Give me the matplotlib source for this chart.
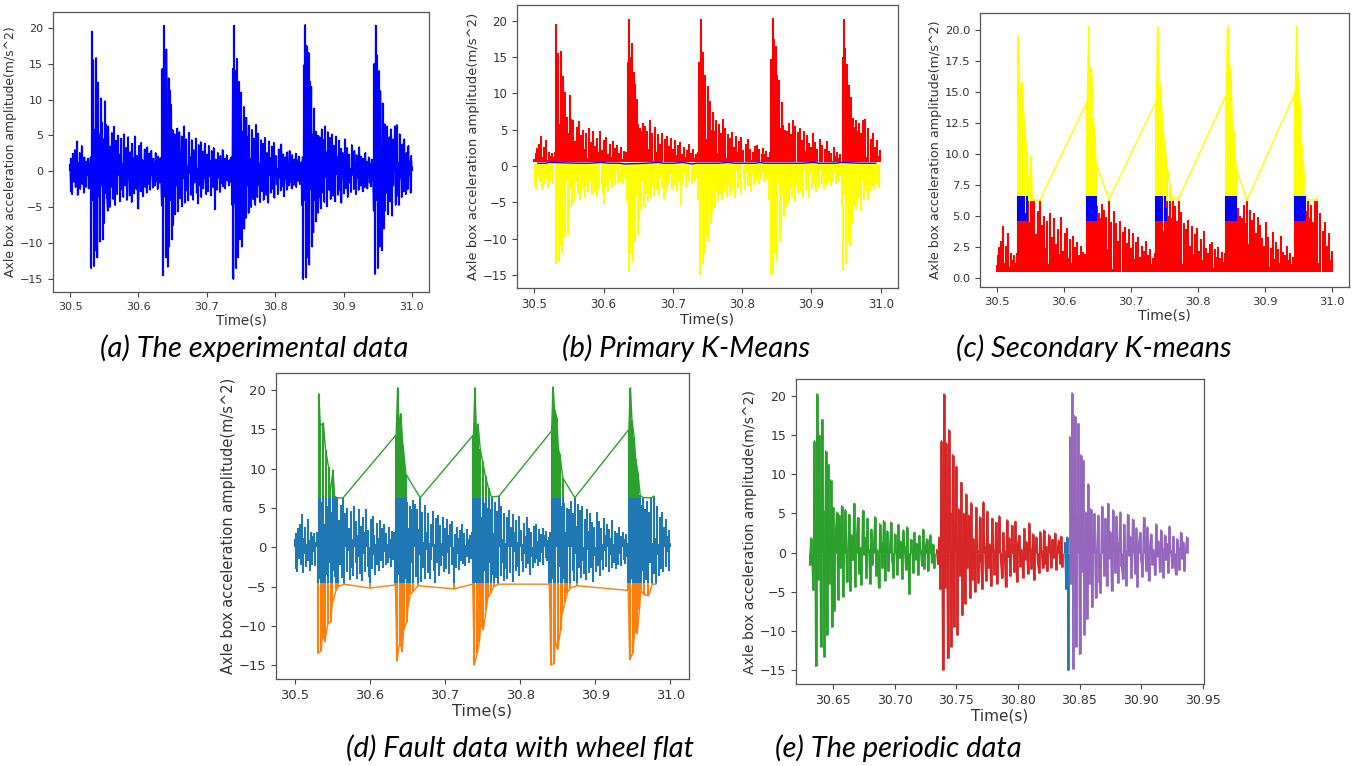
import numpy as np
import matplotlib.pyplot as plt

# axle box acceleration (m/s^2), one value per ms starting at 30.500 s
pre_impact = [1.0, -2.8, 1.8, -3.2, 2.5, 0.4, -1.5, 3.0, -2.2, 0.6,
              4.2, -3.3, 1.2, -0.8, 2.6, -2.5, 0.4, 3.6, -1.8, 0.9,
              -3.0, 2.0, 0.5, -2.2, 1.4, -0.6, 1.8, -2.4, 0.7, 1.2]

cycle_1 = [2.0, -13.5, 19.5, -4.0, 15.5, -13.2, 5.8, -11.0,
           15.8, 3.0, -12.0, 12.4, -3.5, 5.2, -9.8, 10.2,
           -2.0, 6.8, -9.5, 4.5, -7.2, 9.8, -3.0, 6.5,
           -3.8, -5.5, 6.3, 0.8, -5.0, 3.5, -2.2, 5.4,
           0.4, -3.9, 6.25, -1.5, -4.7, 4.3, 0.9, -3.2,
           5.0, -0.5, 2.4, -4.2, 0.6, 4.6, -2.6, 1.1,
           -3.6, 5.2, 0.4, -2.0, 3.3, -4.0, 1.5, 4.8,
           -1.2, -3.4, 2.7, 0.7, -4.3, 3.9, -0.8, 1.9,
           -3.1, 4.9, 0.5, -2.5, 2.2, -3.8, -5.2, 3.6,
           0.8, -2.8, 4.0, -1.0, 1.6, -3.5, 0.4, 3.1,
           -2.2, 1.2, -3.0, 3.4, 0.6, -1.8, 2.5, -2.6,
           0.9, 2.9, -0.6, -2.3, 1.8, 0.4, -2.0, 2.6,
           -1.4, 1.0, -2.5, 2.1, 0.3, -1.6, 1.9, -1.2]

cycle_2 = [-4.8, 14.3, -14.5, 20.3, -3.5, 15.0, -12.0, 17.0,
           5.5, -13.3, 13.0, -10.5, 11.3, -4.0, 9.3, -9.5,
           5.8, -7.5, 2.5, 5.2, -6.0, 4.8, -2.0, 6.0,
           -5.6, 1.2, 5.5, -3.8, 0.4, 4.9, -4.9, 2.3,
           -1.0, 6.3, -4.4, 1.4, 4.5, -2.7, 0.7, -4.1,
           5.4, -0.3, 2.0, -3.3, 4.4, 0.5, -4.0, 3.0,
           -1.6, 1.0, 4.6, -3.0, 0.4, -4.5, 3.7, 1.3,
           -2.0, 4.1, -3.6, 0.8, 2.8, -2.4, 0.6, 3.9,
           -1.1, -3.2, 2.4, 0.4, -2.8, 3.6, -0.7, 1.5,
           -3.4, 2.9, 0.9, -2.2, 3.3, -1.4, -5.3, 1.7,
           0.5, -2.6, 2.6, -0.9, 1.2, -2.9, 2.2, 0.4,
           -1.7, 3.0, -2.1, 0.7, 1.8, -2.4, 0.3, 2.3,
           -1.3, 1.1, -2.0, 1.6, 0.4, -1.5, 2.0, -4.7]

cycle_3 = [14.3, -15.0, 20.3, -4.5, 14.0, -13.5, 15.7, 5.2,
           -12.0, 12.5, -9.5, 3.8, 11.0, -10.5, 5.6, -3.0,
           9.0, -8.0, 5.0, -6.5, 7.5, -2.0, 4.8, -5.8,
           6.4, -3.5, 1.8, -5.0, 5.8, 0.4, -3.9, 4.6,
           -1.2, -4.7, 6.5, 0.8, -3.6, 5.3, -2.0, 1.1,
           -4.3, 4.4, 0.5, -2.8, 3.9, -4.0, 1.6, 4.7,
           -1.0, -3.3, 2.6, 0.4, -4.4, 4.2, -0.6, 1.9,
           -3.0, 3.5, 0.7, -2.5, 4.0, -3.7, 1.3, 2.2,
           -1.8, 0.4, -3.2, 3.1, -0.9, 1.4, -2.7, 3.8,
           0.6, -2.1, 2.4, -3.5, 0.9, 2.0, -1.2, -2.6,
           2.7, 0.4, -2.0, 2.9, -1.5, 0.8, -2.4, 2.3,
           0.5, -1.9, 1.7, -0.7, 2.5, -2.2, 0.4, 1.6,
           -1.4, 2.1, -1.8, 0.9, 1.3, -4.7, 2.0, -15.0]

cycle_4 = [14.8, -4.0, 20.4, -14.8, 17.5, -12.0, 4.5, 16.5,
           -13.0, 12.5, -2.5, 11.8, -10.5, 5.2, -8.5, 8.8,
           -4.0, 5.6, -7.0, 2.0, 5.0, -5.8, 0.4, 4.8,
           -3.7, -5.2, 5.9, 1.0, -3.0, 4.4, -4.3, 6.3,
           -0.8, 2.7, -4.9, 5.5, 0.6, -2.6, 4.7, -3.9,
           1.4, 5.2, -1.7, -3.4, 3.6, 0.4, -4.2, 4.9,
           -0.4, 2.1, -3.3, 4.3, 0.8, -2.7, 3.2, -4.4,
           1.2, 2.6, -1.1, -3.1, 4.5, 0.5, -2.4, 3.3,
           -3.6, 0.9, 2.4, -1.6, 0.4, -2.9, 3.7, -0.5,
           1.5, -2.5, 2.9, 0.6, -3.2, 2.3, -1.0, 1.2,
           -2.6, 3.4, 0.4, -2.0, 2.1, -1.3, -2.8, 1.8,
           0.7, -2.2, 2.6, -0.8, 1.4, -2.4, 0.4, 2.0,
           -1.6, 1.1, -2.1, 1.7, 0.5, -1.3, -5.5, 15.0]

cycle_5 = [-14.3, 20.3, -4.0, 16.2, -13.5, 5.0, 14.0, -10.5,
           11.2, -2.5, -11.0, 9.5, 4.6, -8.0, 6.6, -5.5,
           5.4, -3.0, 6.3, -6.0, 0.9, 4.8, -4.2, 5.9,
           0.4, -6.2, 4.5, -2.0, 2.8, 6.3, -4.7, 0.6,
           6.5, -3.4, 1.2, -4.7, 5.2, -1.0, 0.4, -3.6,
           3.8, 0.7, -2.8, 4.5, -1.9, -3.2, 2.6, 0.4,
           -2.5, 3.6, -0.6, 1.4, -3.0, 2.2, 0.6]

t_start = 30.5
dt = 0.001

impact_times = [30.530, 30.634, 30.738, 30.842, 30.946]

# cluster limits
primary_low = 0.3
primary_high = 0.5
peak_level = 6.2
burst_level = 4.6
burst_top = 6.6
burst_length = 0.016
trough_level = -4.6

# periods cut out in (e)
period_starts = [30.6305, 30.7335, 30.8375, 30.8415]
period_ends = [30.7325, 30.8365, 30.8415, 30.9375]
period_colors = ['tab:green', 'tab:red', 'tab:blue', 'tab:purple']

captions = ['(a) The experimental data', '(b) Primary K-Means', '(c) Secondary K-means',
            '(d) Fault data with wheel flat', '(e) The periodic data']

signal = np.array(pre_impact + cycle_1 + cycle_2 + cycle_3 + cycle_4 + cycle_5)
t = t_start + dt * np.arange(len(signal))
everywhere = np.ones(len(t), dtype=bool)

in_burst = np.zeros(len(t), dtype=bool)
for ti in impact_times:
    in_burst |= (t >= ti - 0.0015) & (t < ti + burst_length)

# cluster membership
blue_b = (signal >= primary_low) & (signal <= primary_high)
yellow_c = signal > peak_level
orange_d = signal <= trough_level

W, H = 1354, 766
fig = plt.figure(figsize=(W / 100, H / 100), dpi=100)
lw = 1.0


def add_box(l, top, r, b, k):
    ax = fig.add_axes([l / W, 1 - b / H, (r - l) / W, (b - top) / H])
    for s in ax.spines.values():
        s.set_color('#555555')
        s.set_linewidth(0.9)
    ax.tick_params(labelsize=8.6 * k, colors='#444444', labelcolor='#333333', length=3.5)
    ax.set_xlabel('Time(s)', fontsize=10.5 * k, color='#333333', labelpad=1)
    ax.set_ylabel('Axle box acceleration amplitude(m/s^2)', fontsize=9.6 * k,
                  color='#333333', labelpad=2)
    return ax


def band(ax, lo, hi, color, base, where=everywhere, w=1.5):
    # the dense signal sweeps through the whole cluster band around each sample
    v = np.clip(signal, lo, hi)
    m = where & (v != base)
    ax.vlines(t[m], base, v[m], color=color, lw=w)


def members(ax, mask, color):
    ax.plot(t[mask], signal[mask], color=color, lw=lw)


x_ticks = [30.5, 30.6, 30.7, 30.8, 30.9, 31.0]

# (a) raw signal
ax_a = add_box(53, 12, 429, 292, 0.93)
band(ax_a, -np.inf, np.inf, 'blue', 0, w=1.6)
ax_a.plot(t, signal, color='blue', lw=lw)
ax_a.set_xticks(x_ticks)

# (b) primary k-means
ax_b = add_box(517, 5, 898, 288, 0.985)
band(ax_b, primary_high, np.inf, 'red', primary_high)
band(ax_b, -np.inf, primary_low, 'yellow', primary_low)
members(ax_b, blue_b, 'blue')
ax_b.set_xticks(x_ticks)

# (c) secondary k-means on the positive cluster
ax_c = add_box(980, 13, 1349, 287, 0.96)
band(ax_c, primary_high, peak_level, 'red', primary_high, where=~in_burst)
band(ax_c, primary_high, burst_level, 'red', primary_high, where=in_burst)
band(ax_c, peak_level, np.inf, 'yellow', peak_level)
members(ax_c, yellow_c, 'yellow')
band(ax_c, burst_level, burst_top, 'blue', burst_level, where=in_burst)
ax_c.set_xticks(x_ticks)
ax_c.set_yticks([0, 2.5, 5, 7.5, 10, 12.5, 15, 17.5, 20])
ax_c.set_ylim(-0.75, 21.4)

# (d) fault data
ax_d = add_box(276, 373, 689, 679, 1.095)
band(ax_d, trough_level, peak_level, 'tab:blue', 0)
band(ax_d, -np.inf, trough_level, 'tab:orange', trough_level)
members(ax_d, orange_d, 'tab:orange')
band(ax_d, peak_level, np.inf, 'tab:green', peak_level)
members(ax_d, yellow_c, 'tab:green')
ax_d.set_xticks(x_ticks)

# (e) periodic segments
ax_e = add_box(796, 379, 1204, 684, 1.05)
for ts, te, c in zip(period_starts, period_ends, period_colors):
    m = (t >= ts) & (t < te)
    band(ax_e, -np.inf, np.inf, c, 0, where=m, w=2.0)
    ax_e.plot(t[m], signal[m], color=c, lw=lw)
ax_e.set_xlim(30.620, 30.951)
ax_e.set_xticks([30.65, 30.70, 30.75, 30.80, 30.85, 30.90, 30.95])

caption_pos = [(254, 348), (686, 348), (1094, 348), (520, 748), (898, 748)]
for txt, (x, y) in zip(captions, caption_pos):
    fig.text(x / W, 1 - y / H, txt, ha='center', va='center', fontsize=21,
             style='italic', family='Lato', color='black')

fig.savefig('out.png', dpi=100)
